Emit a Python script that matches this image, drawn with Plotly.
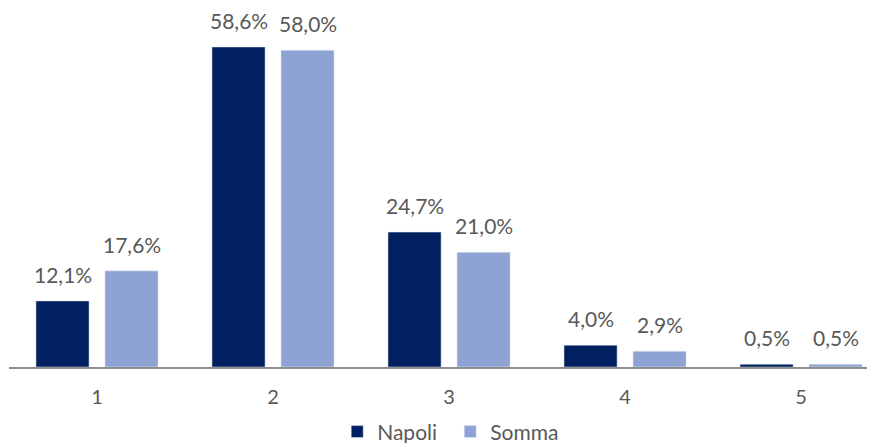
import plotly.graph_objects as go

categories = ["1", "2", "3", "4", "5"]
napoli = [12.1, 58.6, 24.7, 4.0, 0.5]
somma = [17.6, 58.0, 21.0, 2.9, 0.5]

NAPOLI_COLOR = "#002060"
SOMMA_COLOR = "#8FA2D4"
TEXT_COLOR = "#595959"


def fmt(v):
    return f"{v:.1f}%".replace(".", ",")


fig = go.Figure()
fig.add_trace(go.Bar(x=categories, y=napoli, name="Napoli", marker_color=NAPOLI_COLOR))
fig.add_trace(go.Bar(x=categories, y=somma, name="Somma", marker_color=SOMMA_COLOR))

# value labels sit a bit higher above the bars than plotly's "outside" text
# (annotation x on a category axis is the category index)
for series, shift in [(napoli, -34.5), (somma, 34.5)]:
    for i, val in enumerate(series):
        fig.add_annotation(x=i, y=val, text=fmt(val), showarrow=False,
                           xshift=shift, yshift=12, yanchor="bottom",
                           font=dict(size=21, color=TEXT_COLOR))

# page body has an 8px margin, so the figure is sized to end at the window edge
fig.update_layout(
    width=867, height=435,
    margin=dict(l=1, r=0, t=10, b=76, autoexpand=False),
    barmode="group", bargap=0.216, bargroupgap=0.23,
    plot_bgcolor="white", paper_bgcolor="white",
    font=dict(family="Lato, Carlito, sans-serif", size=20, color=TEXT_COLOR),
    legend=dict(orientation="h", x=0.379, xanchor="left", y=-0.186, yanchor="middle",
                font=dict(size=21, color=TEXT_COLOR), itemwidth=30, entrywidth=68),
    xaxis=dict(range=[-0.5, 4.42], showline=True, linecolor="#8c8c8c", linewidth=2,
               ticks="", showgrid=False, ticklabelstandoff=11,
               tickfont=dict(size=20, color=TEXT_COLOR)),
    yaxis=dict(range=[0, 63.9], visible=False, showgrid=False),
)

fig.write_html("out.html")
